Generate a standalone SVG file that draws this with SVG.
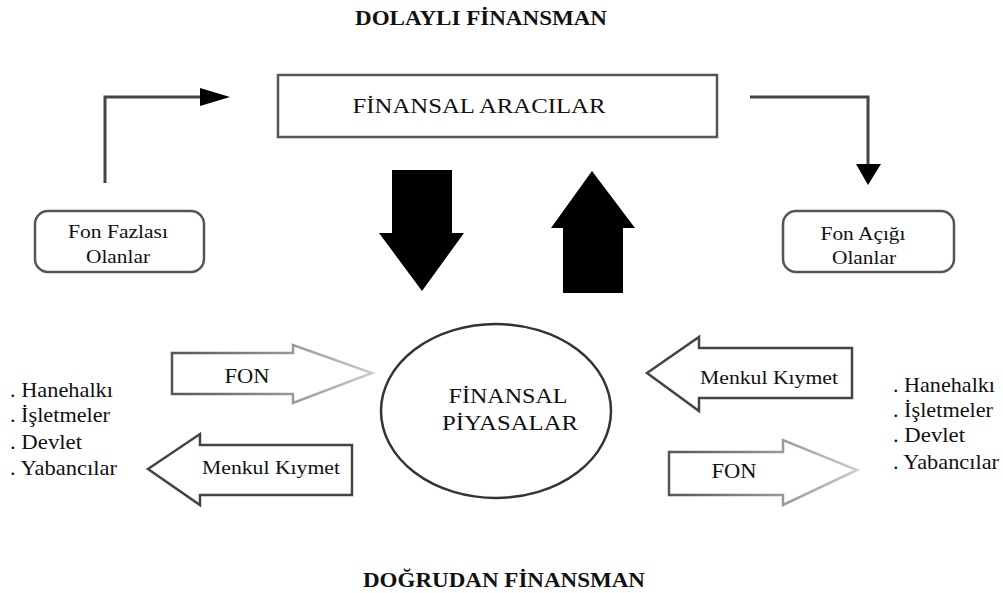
<svg xmlns="http://www.w3.org/2000/svg" width="1003" height="593" viewBox="0 0 1003 593">
<defs>
<style>
text{font-family:"Liberation Serif","Times New Roman",serif;fill:#111}
.title{font-weight:bold;font-size:20px}
.box{fill:#fff;stroke:#555;stroke-width:2.5}
.conn{fill:none;stroke:#444;stroke-width:3}
.blk{fill:#000}
.list{font-size:21px}
.menkul{fill:#fff;stroke:#444;stroke-width:2.5;stroke-linejoin:miter}
</style>
<linearGradient id="gL" x1="0" y1="0" x2="1" y2="0">
<stop offset="0" stop-color="#555"/><stop offset="0.6" stop-color="#999"/><stop offset="1" stop-color="#ccc"/>
</linearGradient>
</defs>
<rect width="1003" height="593" fill="#fff"/>
<text class="title" x="481" y="25" text-anchor="middle" textLength="252" lengthAdjust="spacingAndGlyphs">DOLAYLI FİNANSMAN</text>
<text class="title" x="504" y="587" text-anchor="middle" textLength="282" lengthAdjust="spacingAndGlyphs">DOĞRUDAN FİNANSMAN</text>
<g id="connectors">
<path class="conn" d="M105,183 V97 H202"/>
<polygon class="blk" points="200,88 230,97 200,106"/>
<path class="conn" d="M750,97 H868 V166"/>
<polygon class="blk" points="856,164 881,164 868,185"/>
<polygon class="blk" points="392,170 452,170 452,233 464,233 422,291 379,233 392,233"/>
<polygon class="blk" points="592,171 635,228 623,228 623,293 563,293 563,228 551,228"/>
<polygon fill="#fff" stroke="url(#gL)" stroke-width="2.5" points="172,353 293,353 293,345 372,373 293,403 293,394 172,394"/>
<text x="247" y="383" font-size="21" text-anchor="middle" textLength="45" lengthAdjust="spacingAndGlyphs">FON</text>
<polygon class="menkul" points="352,445 200,445 200,434 148,469 200,505 200,495 352,495"/>
<text x="271" y="474" font-size="19" text-anchor="middle" textLength="138" lengthAdjust="spacingAndGlyphs">Menkul Kıymet</text>
<polygon class="menkul" points="852,348 699,348 699,337 647,373 699,411 699,398 852,398"/>
<text x="769" y="384" font-size="19" text-anchor="middle" textLength="138" lengthAdjust="spacingAndGlyphs">Menkul Kıymet</text>
<polygon fill="#fff" stroke="url(#gL)" stroke-width="2.5" points="669,452 783,452 783,440 857,470 783,505 783,495 669,495"/>
<text x="734" y="478" font-size="21" text-anchor="middle" textLength="45" lengthAdjust="spacingAndGlyphs">FON</text>
</g>
<g id="aracilar">
<rect class="box" x="278" y="75" width="439" height="62"/>
<text x="479" y="113" font-size="21" text-anchor="middle" textLength="253" lengthAdjust="spacingAndGlyphs">FİNANSAL ARACILAR</text>
</g>
<g id="fon-fazlasi">
<rect class="box" x="35" y="211" width="169" height="61" rx="13"/>
<text x="118" y="238" font-size="18" text-anchor="middle" textLength="100" lengthAdjust="spacingAndGlyphs">Fon Fazlası</text>
<text x="118" y="263" font-size="18" text-anchor="middle" textLength="64" lengthAdjust="spacingAndGlyphs">Olanlar</text>
</g>
<g id="fon-acigi">
<rect class="box" x="783" y="211" width="171" height="61" rx="13"/>
<text x="863" y="240" font-size="18" text-anchor="middle" textLength="85" lengthAdjust="spacingAndGlyphs">Fon Açığı</text>
<text x="864" y="264" font-size="18" text-anchor="middle" textLength="64" lengthAdjust="spacingAndGlyphs">Olanlar</text>
</g>
<g id="piyasalar">
<ellipse cx="496" cy="411" rx="115" ry="87" fill="#fff" stroke="#333" stroke-width="2.5"/>
<text x="508" y="403" font-size="22" text-anchor="middle" textLength="119" lengthAdjust="spacingAndGlyphs">FİNANSAL</text>
<text x="510" y="430" font-size="22" text-anchor="middle" textLength="136" lengthAdjust="spacingAndGlyphs">PİYASALAR</text>
</g>
<g id="list-left" class="list">
<text x="10" y="397" textLength="103" lengthAdjust="spacingAndGlyphs">. Hanehalkı</text>
<text x="10" y="422" textLength="100" lengthAdjust="spacingAndGlyphs">. İşletmeler</text>
<text x="10" y="449" textLength="72" lengthAdjust="spacingAndGlyphs">. Devlet</text>
<text x="10" y="475" textLength="107" lengthAdjust="spacingAndGlyphs">. Yabancılar</text>
</g>
<g id="list-right" class="list">
<text x="893" y="392" textLength="102" lengthAdjust="spacingAndGlyphs">. Hanehalkı</text>
<text x="893" y="417" textLength="100" lengthAdjust="spacingAndGlyphs">. İşletmeler</text>
<text x="893" y="442" textLength="72" lengthAdjust="spacingAndGlyphs">. Devlet</text>
<text x="893" y="469" textLength="106" lengthAdjust="spacingAndGlyphs">. Yabancılar</text>
</g>
</svg>
